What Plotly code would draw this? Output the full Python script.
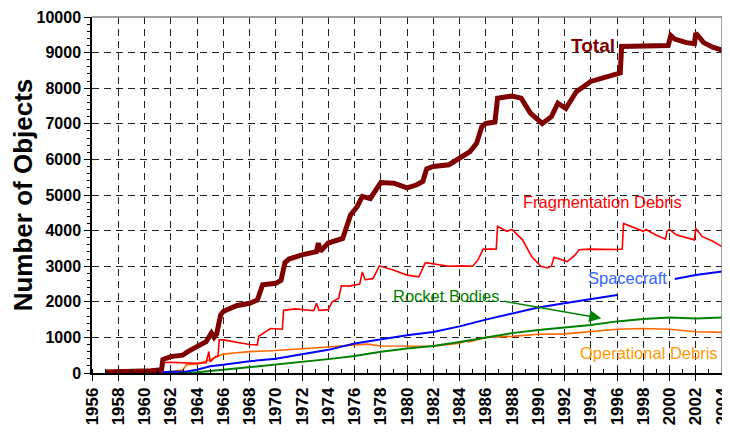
import plotly.graph_objects as go

# catalogued objects in orbit
total_year = [1957.0, 1959.0, 1960.5, 1961.3, 1961.4, 1962.0, 1962.9, 1963.3, 1964.0, 1964.7,
              1965.1, 1965.3, 1965.5, 1965.8, 1966.0, 1967.0, 1968.0, 1968.6, 1969.0, 1970.0,
              1970.4, 1970.7, 1971.0, 1972.0, 1973.1, 1973.25, 1973.4, 1974.0, 1975.1, 1975.4,
              1975.7, 1976.2, 1976.6, 1977.2, 1977.6, 1978.0, 1979.0, 1980.0, 1980.7, 1981.2,
              1981.5, 1982.0, 1983.2, 1984.0, 1984.8, 1985.3, 1985.7, 1986.0, 1986.7, 1986.9,
              1988.0, 1988.7, 1989.4, 1990.3, 1991.0, 1991.5, 1992.1, 1992.9, 1993.3, 1994.0,
              1996.0, 1996.25, 1996.35, 1998.0, 1999.9, 2000.1, 2000.4, 2001.3, 2001.9, 2002.0,
              2002.6, 2003.3, 2004.0]
total_val = [30, 40, 60, 90, 380, 460, 500, 600, 740, 880,
             1120, 1000, 1100, 1630, 1730, 1890, 1960, 2050, 2480, 2520,
             2600, 3100, 3200, 3320, 3410, 3650, 3420, 3650, 3780, 4110,
             4440, 4670, 4960, 4900, 5100, 5350, 5330, 5200, 5280, 5380,
             5730, 5800, 5850, 6030, 6220, 6450, 6920, 7010, 7050, 7720,
             7780, 7720, 7300, 7010, 7200, 7580, 7430, 7900, 8000, 8190,
             8400, 8430, 9170, 9180, 9200, 9480, 9380, 9280, 9250, 9550,
             9280, 9150, 9070]

frag_year = [1961.35, 1961.45, 1962.0, 1963.0, 1964.0, 1964.7, 1964.9, 1965.0, 1965.4, 1965.6,
             1965.7, 1966.0, 1966.5, 1967.0, 1968.0, 1968.6, 1968.7, 1969.6, 1970.5, 1970.6,
             1971.5, 1972.9, 1973.1, 1973.3, 1974.0, 1974.3, 1974.8, 1975.0, 1975.6, 1976.4,
             1976.6, 1976.8, 1977.4, 1977.9, 1978.9, 1980.0, 1980.9, 1981.4, 1982.2, 1983.2,
             1984.2, 1985.0, 1985.4, 1985.8, 1986.8, 1986.9, 1987.6, 1988.0, 1988.8, 1989.5,
             1990.2, 1990.7, 1991.0, 1991.2, 1992.2, 1992.8, 1993.1, 1993.9, 1996.0, 1996.4,
             1996.5, 1997.3, 1998.0, 1998.2, 1999.0, 1999.7, 1999.8, 2000.0, 2000.5, 2001.9,
             2002.0, 2002.5, 2003.3, 2004.0]
frag_val = [0, 290, 300, 290, 270, 290, 600, 310, 460, 480,
            930, 930, 900, 850, 800, 790, 1030, 1250, 1230, 1760,
            1800, 1750, 1960, 1760, 1780, 2000, 2100, 2450, 2440, 2500,
            2840, 2620, 2650, 3010, 2900, 2750, 2700, 3100, 3050, 3000,
            3010, 3000, 3170, 3480, 3480, 4120, 3980, 4030, 3740, 3270,
            3000, 2950, 3000, 3250, 3130, 3310, 3460, 3480, 3470, 3480,
            4200, 4080, 3980, 4030, 3870, 3760, 3980, 4040, 3880, 3740,
            4060, 3830, 3700, 3550]

sc_year = [1957.8, 1960.0, 1962.0, 1963.2, 1964.0, 1965.0, 1966.0, 1968.0, 1970.0, 1972.0,
           1974.0, 1976.0, 1978.0, 1980.0, 1982.0, 1984.0, 1986.0, 1988.0, 1990.0, 1992.0,
           1994.0, 1996.0, None, 2000.4, 2002.0, 2004.0]
sc_val = [0, 15, 30, 40, 90, 190, 230, 330, 400, 520,
          650, 830, 950, 1060, 1150, 1310, 1500, 1680, 1840, 1960,
          2070, 2190, None, 2640, 2750, 2850]

rb_year = [1957.5, 1962.0, 1963.0, 1964.0, 1966.0, 1968.0, 1970.0, 1972.0, 1974.0, 1976.0,
           1978.0, 1980.0, 1982.0, 1984.0, 1986.0, 1988.0, 1990.0, 1992.0, 1994.0, 1996.0,
           1998.0, 2000.0, 2002.0, 2004.0]
rb_val = [0, 5, 10, 20, 90, 160, 240, 320, 390, 480,
          600, 690, 760, 870, 1000, 1120, 1210, 1280, 1350, 1450,
          1520, 1560, 1530, 1560]

od_year = [1957.5, 1961.0, 1962.0, 1962.9, 1963.2, 1964.0, 1965.0, 1966.0, 1967.0, 1968.0,
           1970.0, 1972.0, 1974.0, 1976.0, 1977.0, 1978.0, 1980.0, 1982.0, 1984.0, 1984.5,
           1984.7, 1986.0, 1988.0, 1990.0, 1992.0, 1994.0, 1996.0, 1998.0, 2000.0, 2002.0,
           2004.0]
od_val = [0, 10, 40, 80, 230, 250, 370, 530, 570, 600,
          630, 670, 730, 790, 810, 760, 750, 750, 840, 900,
          870, 1000, 1030, 1090, 1100, 1160, 1230, 1250, 1230, 1160,
          1140]

FONT = "Liberation Sans, Arial, sans-serif"

fig = go.Figure()
fig.add_trace(go.Scatter(x=od_year, y=od_val, mode='lines',
                         line=dict(color='#FF6600', width=1.6), name='Operational Debris'))
fig.add_trace(go.Scatter(x=rb_year, y=rb_val, mode='lines',
                         line=dict(color='#008000', width=2), name='Rocket Bodies'))
fig.add_trace(go.Scatter(x=sc_year, y=sc_val, mode='lines', connectgaps=False,
                         line=dict(color='#0000FF', width=2), name='Spacecraft'))
fig.add_trace(go.Scatter(x=frag_year, y=frag_val, mode='lines',
                         line=dict(color='#FF0000', width=1.6), name='Fragmentation Debris'))
fig.add_trace(go.Scatter(x=total_year, y=total_val, mode='lines',
                         line=dict(color='#800000', width=5), name='Total'))

labels = [
    ("Total", 1994.2, 9200, '#800000', 19, 700),
    ("Fragmentation Debris", 1994.9, 4800, '#FF0000', 16.5, 400),
    ("Spacecraft", 1996.8, 2670, '#3366FF', 16.5, 400),
    ("Rocket Bodies", 1983.0, 2150, '#008000', 16.5, 400),
    ("Operational Debris", 1998.4, 560, '#FF9900', 16.5, 400),
]
for txt, lx, ly, col, sz, wt in labels:
    fig.add_annotation(x=lx, y=ly, text=txt, showarrow=False,
                       font=dict(family=FONT, size=sz, color=col, weight=wt))

# arrow from the Rocket Bodies label down to its curve
fig.add_annotation(x=1994.8, y=1540, ax=1987.3, ay=2020, axref='x', ayref='y',
                   xref='x', yref='y', text='', showarrow=True,
                   arrowhead=2, arrowsize=1.6, arrowwidth=1.5, arrowcolor='#008000')

# grey frame on top and right
fig.add_shape(type='line', xref='paper', yref='paper', x0=0, x1=1, y0=1, y1=1,
              line=dict(color='#808080', width=1.5))
fig.add_shape(type='line', xref='paper', yref='paper', x0=1, x1=1, y0=0, y1=1,
              line=dict(color='#808080', width=1.5))

# the page body adds an 8px offset, so margins are set to compensate
fig.update_layout(
    width=730, height=438,
    margin=dict(l=84, r=16, t=9, b=73),
    paper_bgcolor='white', plot_bgcolor='white',
    showlegend=False,
    font=dict(family=FONT, color='black'),
    xaxis=dict(range=[1956, 2004], tick0=1956, dtick=2, tickangle=-90,
               automargin=False, ticklabeloverflow='allow',
               showline=True, linecolor='black', linewidth=1.5,
               ticks='outside', ticklen=6, tickcolor='black',
               tickfont=dict(family=FONT, size=17, weight=700),
               showgrid=True, gridcolor='#222222', gridwidth=1, griddash='7px,5px',
               zeroline=False,
               minor=dict(dtick=1, ticks='inside', ticklen=4, tickcolor='black', showgrid=False)),
    yaxis=dict(range=[0, 10000], dtick=1000, tickformat='d',
               automargin=False, ticklabeloverflow='allow',
               showline=True, linecolor='black', linewidth=1.5,
               ticks='outside', ticklen=6, tickcolor='black',
               tickfont=dict(family=FONT, size=16, weight=700),
               showgrid=True, gridcolor='#222222', gridwidth=1, griddash='7px,5px',
               zeroline=False,
               title=dict(text='Number of Objects', standoff=3,
                          font=dict(family=FONT, size=26, weight=700)),
               minor=dict(dtick=200, ticks='outside', ticklen=3, tickcolor='black', showgrid=False)),
)

fig.write_html("out.html")
